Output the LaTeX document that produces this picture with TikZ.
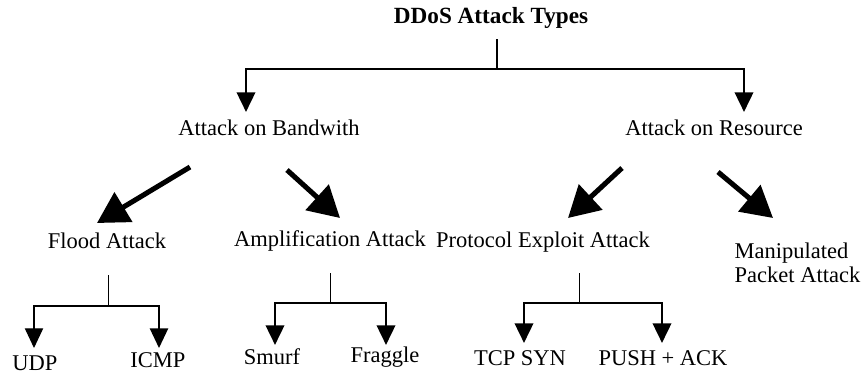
\documentclass[tikz,border=0pt]{standalone}
\usepackage{fontspec}
\setmainfont{Liberation Serif}
\usetikzlibrary{arrows.meta, positioning}

\begin{document}
\begin{tikzpicture}[x=0.025cm, y=-0.025cm,
  lbl/.style={font=\fontsize{16}{18}\selectfont, inner sep=1pt},
  down/.style={-{Triangle[width=13pt,length=14pt]}, line width=2pt},
  slant/.style={-{Triangle[width=24pt,length=22pt]}, line width=3.6pt}]
  \useasboundingbox (0,0) rectangle (865,375);

  % Root
  \node[lbl, font=\fontsize{16.5}{18}\selectfont\bfseries] (ddos) at (491,18) {DDoS Attack Types};
  \coordinate (rootjoin) at (497,69);
  \coordinate (bwtip) at (246,112);
  \coordinate (restip) at (744,112);
  \draw[line width=1pt] (ddos.south -| rootjoin) ++(0,9) -- (rootjoin);
  \draw[down] (rootjoin) -| (bwtip);
  \draw[down] (rootjoin) -| (restip);

  % Second level
  \node[lbl] (bandwidth) at (269,128) {Attack on Bandwith};
  \node[lbl] (resource) at (714,128) {Attack on Resource};

  \node[lbl] (flood) at (107,241) {Flood Attack};
  \node[lbl] (ampl) at (330,241) {Amplification Attack};
  \node[lbl] (proto) at (543,242) {Protocol Exploit Attack};
  \node[lbl, font=\fontsize{16}{17}\selectfont, align=left, anchor=west] (manip) at (733,263) {Manipulated\\Packet Attack};

  % Slanted arrows
  \coordinate (bwleft) at (190,167);
  \coordinate (bwright) at (287,170);
  \coordinate (resleft) at (622,168);
  \coordinate (resright) at (718,172);
  \coordinate (floodtip) at (97,223);
  \coordinate (ampltip) at (340,218);
  \coordinate (prototip) at (568,218);
  \coordinate (maniptip) at (773,218);
  \draw[slant] (bwleft) -- (floodtip);
  \draw[slant] (bwright) -- (ampltip);
  \draw[slant] (resleft) -- (prototip);
  \draw[slant] (resright) -- (maniptip);

  % Leaves
  \node[lbl] (udp) at (35,363) {UDP};
  \node[lbl] (icmp) at (158,360) {ICMP};
  \node[lbl] (smurf) at (272,357) {Smurf};
  \node[lbl] (fraggle) at (385,357) {Fraggle};
  \node[lbl] (tcpsyn) at (520,358) {TCP SYN};
  \node[lbl] (pushack) at (663,358) {PUSH + ACK};

  \coordinate (udptip) at (34,348);
  \coordinate (icmptip) at (159,348);
  \coordinate (smurftip) at (275,345);
  \coordinate (fraggletip) at (386,345);
  \coordinate (tcptip) at (524,343);
  \coordinate (pushtip) at (662,343);

  % Flood branch
  \coordinate (floodjoin) at (108,306);
  \draw[line width=0.7pt] (floodjoin |- 0,275) -- (floodjoin);
  \draw[down, line width=0.8pt] (floodjoin) -| (udptip);
  \draw[down, line width=1.2pt] (floodjoin) -| (icmptip);

  % Amplification branch
  \coordinate (ampljoin) at (330,303);
  \draw[line width=0.7pt] (ampljoin |- 0,273) -- (ampljoin);
  \draw[down] (ampljoin) -| (smurftip);
  \draw[down] (ampljoin) -| (fraggletip);

  % Protocol branch
  \coordinate (protojoin) at (579,303);
  \draw[line width=0.7pt] (protojoin |- 0,273) -- (protojoin);
  \draw[down] (protojoin) -| (tcptip);
  \draw[down] (protojoin) -| (pushtip);
\end{tikzpicture}
\end{document}
